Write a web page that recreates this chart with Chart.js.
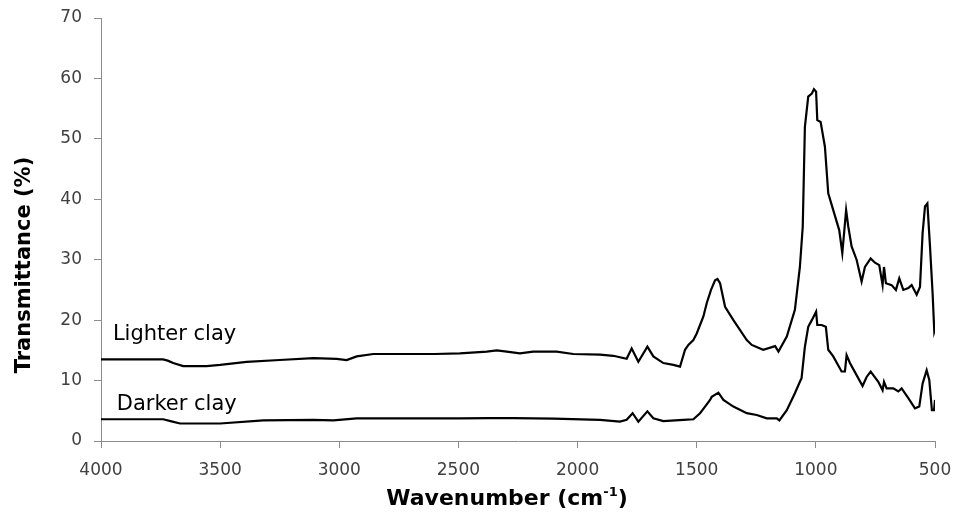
<!DOCTYPE html>
<html>
<head>
<meta charset="utf-8">
<script src="https://cdn.jsdelivr.net/npm/chart.js@4.4.0/dist/chart.umd.min.js"></script>
<style>
html,body{margin:0;padding:0;background:#fff;}
#wrap{width:954px;height:517px;position:relative;}
</style>
</head>
<body>
<div id="wrap"><canvas id="c" width="954" height="517"></canvas></div>
<script>
// ---- Data ----
const lighterWn = [4000,3850,3740,3720,3697,3655,3600,3557,3500,3389,3250,3109,3011,2969,2927,2857,2750,2600,2494,2381,2339,2297,2242,2186,2088,2018,1906,1850,1794,1773,1745,1707,1682,1640,1598,1570,1549,1535,1514,1500,1472,1458,1440,1423,1413,1402,1381,1346,1290,1269,1221,1171,1157,1122,1088,1067,1055,1046,1032,1017,1008,999,994,980,962,948,927,902,889,873,864,850,829,808,794,770,752,734,720,714,706,682,664,650,633,612,598,577,563,552,542,532,521,510,503,500];
const lighterT  = [13.5,13.5,13.5,13.3,12.9,12.4,12.4,12.4,12.6,13.1,13.4,13.7,13.6,13.4,14.0,14.4,14.4,14.4,14.5,14.8,15.0,14.8,14.5,14.8,14.8,14.4,14.3,14.1,13.6,15.3,13.1,15.6,14.0,12.9,12.6,12.3,15.1,15.9,16.7,17.8,20.6,22.8,25.0,26.6,26.8,26.1,22.2,20.0,16.7,15.9,15.1,15.7,14.8,17.3,21.7,28.8,35.5,52.0,57.0,57.5,58.2,57.8,53.1,52.8,48.7,41.0,38.2,34.9,31.1,38.2,35.5,32.2,30.0,26.4,28.8,30.2,29.5,29.1,25.8,28.8,26.1,25.8,25.0,26.9,25.0,25.3,25.8,24.2,25.5,34.4,38.8,39.3,32.2,24.4,18.1,18.5];

const darkerWn = [4000,3739,3700,3668,3500,3319,3109,3025,2927,2700,2494,2368,2271,2100,1906,1822,1794,1769,1745,1707,1682,1640,1556,1514,1486,1465,1444,1437,1409,1388,1346,1290,1248,1206,1164,1153,1122,1088,1067,1060,1046,1032,1017,999,994,976,958,948,927,892,878,871,857,829,804,787,770,738,720,714,703,675,654,640,612,584,566,552,535,524,513,504,500];
const darkerT  = [3.6,3.6,3.2,2.9,2.9,3.4,3.5,3.4,3.75,3.75,3.75,3.8,3.8,3.7,3.5,3.2,3.5,4.6,3.2,4.9,3.75,3.3,3.5,3.6,4.6,5.7,6.8,7.3,8.0,6.8,5.7,4.6,4.3,3.75,3.75,3.4,5.1,7.9,9.8,10.4,15.6,18.9,20.0,21.4,19.2,19.2,18.9,15.1,14.0,11.5,11.5,14.2,12.9,10.9,9.1,10.6,11.5,9.8,8.4,9.8,8.7,8.7,8.2,8.7,7.1,5.4,5.7,9.5,11.7,10.1,5.1,5.1,6.8];

const seriesNames = ['Lighter clay', 'Darker clay'];
const xTitleMain = 'Wavenumber (cm';
const xTitleSup = '-1';
const xTitleEnd = ')';
const yTitle = 'Transmittance (%)';
const xMin = 500, xMax = 4000, xStep = 500;
const yMin = 0, yMax = 70, yStep = 10;
// label anchors in data units [wavenumber, transmittance]
const labelAnchors = [[3950, 16.7], [3934, 5.1]];

const toPts = (xs, ys) => xs.map((x, i) => ({x: x, y: ys[i]}));

const axisColor = '#8c8c8c';
const tickFont = {family: '"DejaVu Sans", sans-serif', size: 17};

const textPlugin = {
  id: 'textPlugin',
  afterDraw(chart) {
    const ctx = chart.ctx;
    const xs = chart.scales.x, ys = chart.scales.y;
    ctx.save();
    ctx.fillStyle = '#000';
    ctx.font = '21px "DejaVu Sans", sans-serif';
    ctx.textAlign = 'left';
    ctx.textBaseline = 'alphabetic';
    seriesNames.forEach((n, i) => {
      ctx.fillText(n, xs.getPixelForValue(labelAnchors[i][0]), ys.getPixelForValue(labelAnchors[i][1]));
    });
    const bold = 'bold 22px "DejaVu Sans", sans-serif';
    const supF = 'bold 13px "DejaVu Sans", sans-serif';
    ctx.font = bold;
    const w1 = ctx.measureText(xTitleMain).width;
    const w3 = ctx.measureText(xTitleEnd).width;
    ctx.font = supF;
    const w2 = ctx.measureText(xTitleSup).width;
    const total = w1 + w2 + w3;
    const cx = 507, base = 505;
    let sx = cx - total / 2;
    ctx.font = bold;
    ctx.fillText(xTitleMain, sx, base);
    ctx.font = supF;
    ctx.fillText(xTitleSup, sx + w1, base - 9);
    ctx.font = bold;
    ctx.fillText(xTitleEnd, sx + w1 + w2, base);
    ctx.translate(30, 265);
    ctx.rotate(-Math.PI / 2);
    ctx.textAlign = 'center';
    ctx.font = 'bold 21px "DejaVu Sans", sans-serif';
    ctx.fillText(yTitle, 0, 0);
    ctx.restore();
  }
};

new Chart(document.getElementById('c'), {
  type: 'line',
  data: {
    datasets: [
      {label: seriesNames[0], data: toPts(lighterWn, lighterT), borderColor: '#000', borderWidth: 2.2, pointRadius: 0, tension: 0, fill: false},
      {label: seriesNames[1], data: toPts(darkerWn, darkerT), borderColor: '#000', borderWidth: 2.2, pointRadius: 0, tension: 0, fill: false}
    ]
  },
  options: {
    responsive: false,
    animation: false,
    devicePixelRatio: 1,
    layout: {padding: {left: 0, right: 19, top: 18, bottom: 0}},
    plugins: {legend: {display: false}, tooltip: {enabled: false}},
    scales: {
      x: {
        type: 'linear', reverse: true, min: xMin, max: xMax,
        afterFit(s) { s.height = 76; s.paddingLeft = 0; s.paddingRight = 0; },
        afterBuildTicks(s) { const t = []; for (let v = xMin; v <= xMax; v += xStep) t.push({value: v}); s.ticks = t; },
        ticks: {stepSize: xStep, color: '#404040', font: tickFont, padding: 12, maxRotation: 0, autoSkip: false,
                callback: (v) => String(v)},
        grid: {drawOnChartArea: false, drawTicks: true, tickLength: 7, color: axisColor, lineWidth: 1},
        border: {color: axisColor, width: 1}
      },
      y: {
        type: 'linear', min: yMin, max: yMax,
        afterFit(s) { s.width = 101; s.paddingTop = 0; s.paddingBottom = 0; },
        ticks: {stepSize: yStep, color: '#404040', font: tickFont, padding: 12, callback: (v) => String(v)},
        grid: {drawOnChartArea: false, drawTicks: true, tickLength: 7, color: axisColor, lineWidth: 1},
        border: {color: axisColor, width: 1}
      }
    }
  },
  plugins: [textPlugin]
});
</script>
</body>
</html>
